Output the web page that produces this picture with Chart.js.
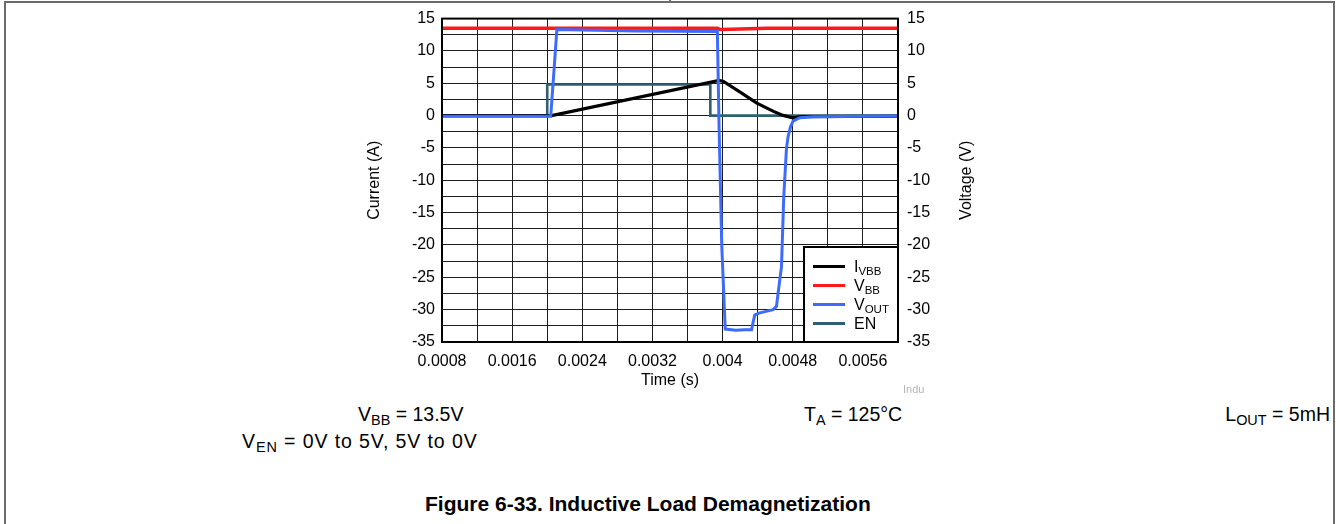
<!DOCTYPE html>
<html>
<head>
<meta charset="utf-8">
<script src="https://cdn.jsdelivr.net/npm/chart.js@4.4.1/dist/chart.umd.min.js"></script>
<style>
  html, body { margin: 0; padding: 0; background: #fff; }
  body { width: 1336px; height: 524px; position: relative; overflow: hidden;
         font-family: "Liberation Sans", Arial, Helvetica, sans-serif; color: #000; }
  .rule { position: absolute; background: #6b6b6b; }
  #wrap { position: absolute; left: 360px; top: 0; width: 620px; height: 400px; }
  .note { position: absolute; font-size: 19.5px; white-space: nowrap; line-height: 1; }
  .note sub { font-size: 0.74em; vertical-align: -0.3em; line-height: 0; }
  .stamp { position: absolute; font-size: 11px; color: #b4b4b4; white-space: nowrap; }
  .caption { position: absolute; font-size: 21px; font-weight: bold; white-space: nowrap; line-height: 1; }
</style>
</head>
<body>
<div class="rule" style="left:4px; top:1px; width:1331px; height:2px;"></div>
<div class="rule" style="left:4px; top:1px; width:2px; height:523px;"></div>
<div class="rule" style="left:1333px; top:1px; width:2px; height:523px;"></div>
<div class="rule" style="left:669px; top:0; width:2px; height:3px;"></div>

<div id="wrap"><canvas id="c"></canvas></div>

<div class="stamp" style="left:903px; top:383px;">Indu</div>
<div class="note" style="left:358px; top:405px;">V<sub>BB</sub> = 13.5V</div>
<div class="note" style="left:804px; top:405px;">T<sub>A</sub> = 125°C</div>
<div class="note" style="right:6px; top:405px;">L<sub>OUT</sub> = 5mH</div>
<div class="note" style="left:242px; top:432px; letter-spacing:0.9px;">V<sub>EN</sub> = 0V to 5V, 5V to 0V</div>
<div class="caption" style="left:425px; top:493px;">Figure 6-33. Inductive Load Demagnetization</div>

<script>
// Time base of the capture, seconds
const xTickLabels = ['0.0008', '0.0016', '0.0024', '0.0032', '0.004', '0.0048', '0.0056'];
const yTickLabels = ['15', '10', '5', '0', '-5', '-10', '-15', '-20', '-25', '-30', '-35'];

// Supply current I_VBB (A)
const ivbbTime = [0.0008, 0.00205, 0.00396, 0.00401, 0.00420, 0.00439, 0.00458, 0.00469, 0.00480, 0.00490, 0.0060];
const ivbbAmps = [0,      0,       5.43,    5.28,    3.63,    1.93,    0.65,    0.03,    -0.33,   -0.15,   -0.1];

// Supply voltage V_BB (V)
const vbbTime = [0.0008, 0.00394, 0.00397, 0.00420, 0.00450, 0.0060];
const vbbVolts = [13.5,  13.5,    13.3,    13.4,    13.5,    13.5];

// Output voltage V_OUT (V)
const voutTime = [0.0008, 0.00204, 0.00211, 0.0030, 0.00394, 0.00396, 0.00399, 0.00403, 0.00415, 0.00425,
                  0.00433, 0.004348, 0.004367, 0.004424, 0.004576, 0.004614, 0.004632, 0.004671, 0.004697,
                  0.004728, 0.004746, 0.004774, 0.004803, 0.00488, 0.005031, 0.0060];
const voutVolts = [-0.1,  -0.1,    13.3,    13.1,   13.0,    -2.0,    -20.0,   -33.0,   -33.2,   -33.1,
                   -33.1,  -31.9,    -30.8,    -30.5,    -30.0,    -29.5,    -27.5,    -23.4,    -12.6,
                   -5.1,     -3.3,     -1.77,    -0.85,    -0.33,   -0.17,    -0.07];

// Enable input EN (V)
const enTime = [0.0008, 0.0020, 0.0020, 0.00386, 0.00386, 0.0060];
const enVolts = [0,     0,      4.8,    4.8,     0,       0];

const seriesMain = ['I', 'V', 'V', 'EN'];
const seriesSub = ['VBB', 'BB', 'OUT', ''];
const seriesColors = ['#000000', '#ff1a1a', '#3d6bff', '#2f5f70'];

const pts = (ts, vs) => ts.map((t, i) => ({ x: t, y: vs[i] }));

const FONT = '"Liberation Sans", Arial, Helvetica, sans-serif';
const GRID = '#1e1e1e';

// Legend box, plot frame and the right-hand axis title
const legendBox = {
  id: 'legendBox',
  afterDatasetsDraw(chart) {
    const { ctx, chartArea: a } = chart;
    const w = 94, h = 95;
    const left = a.right - w, top = a.bottom - h;
    ctx.save();
    ctx.fillStyle = '#fff';
    ctx.fillRect(left, top, w, h);
    ctx.strokeStyle = '#000';
    ctx.lineWidth = 2;
    ctx.strokeRect(left, top, w, h);
    seriesMain.forEach((m, i) => {
      const y = top + 19.5 + i * 19;
      ctx.strokeStyle = seriesColors[i];
      ctx.lineWidth = 3;
      ctx.beginPath();
      ctx.moveTo(left + 9, y);
      ctx.lineTo(left + 41, y);
      ctx.stroke();
      ctx.fillStyle = '#000';
      ctx.textBaseline = 'middle';
      ctx.textAlign = 'left';
      ctx.font = '16px ' + FONT;
      ctx.fillText(m, left + 50, y + 1);
      const mw = ctx.measureText(m).width;
      if (seriesSub[i]) {
        ctx.font = '11.5px ' + FONT;
        ctx.fillText(seriesSub[i], left + 50 + mw, y + 5);
      }
    });
    ctx.restore();
  },
  afterDraw(chart) {
    const { ctx, chartArea: a } = chart;
    ctx.save();
    ctx.strokeStyle = '#000';
    ctx.lineWidth = 2;
    ctx.strokeRect(a.left, a.top, a.right - a.left, a.bottom - a.top);
    // right axis title reads bottom-to-top, like the left one
    ctx.translate(chart.scales.y2.right - 13, (a.top + a.bottom) / 2);
    ctx.rotate(-Math.PI / 2);
    ctx.fillStyle = '#000';
    ctx.font = '16px ' + FONT;
    ctx.textAlign = 'center';
    ctx.textBaseline = 'middle';
    ctx.fillText('Voltage (V)', 0, 0);
    ctx.restore();
  }
};

const yTickCb = v => {
  const s = String(v);
  return yTickLabels.includes(s) ? s : '';
};

new Chart(document.getElementById('c'), {
  type: 'scatter',
  data: {
    datasets: [
      { label: 'IVBB', data: pts(ivbbTime, ivbbAmps), yAxisID: 'y', borderColor: seriesColors[0], borderWidth: 3.2, order: 2 },
      { label: 'VBB', data: pts(vbbTime, vbbVolts), yAxisID: 'y2', borderColor: seriesColors[1], borderWidth: 3.5, order: 3 },
      { label: 'VOUT', data: pts(voutTime, voutVolts), yAxisID: 'y2', borderColor: seriesColors[2], borderWidth: 3, order: 1 },
      { label: 'EN', data: pts(enTime, enVolts), yAxisID: 'y2', borderColor: seriesColors[3], borderWidth: 2.6, order: 4 }
    ].map(d => Object.assign(d, { showLine: true, pointRadius: 0, pointHoverRadius: 0, tension: 0, fill: false }))
  },
  options: {
    responsive: true,
    maintainAspectRatio: false,
    animation: false,
    events: [],
    layout: { padding: { top: 18, left: 0, right: 0, bottom: 0 } },
    plugins: { legend: { display: false }, tooltip: { enabled: false } },
    scales: {
      x: {
        type: 'linear', min: 0.0008, max: 0.006,
        afterFit: s => { s.height = 58; },
        grid: { color: GRID, lineWidth: 1, drawTicks: false },
        border: { display: false },
        ticks: {
          stepSize: 0.0004, autoSkip: false, maxRotation: 0, padding: 10,
          color: '#000', font: { family: FONT, size: 16 },
          callback: v => {
            const s = String(parseFloat(Number(v).toFixed(5)));
            return xTickLabels.includes(s) ? s : '';
          }
        },
        title: { display: true, text: 'Time (s)', color: '#000', font: { family: FONT, size: 16 }, padding: { top: 0, bottom: 10 } }
      },
      y: {
        position: 'left', min: -35, max: 15,
        afterFit: s => { s.width = 82; },
        grid: { color: GRID, lineWidth: 1, drawTicks: false },
        border: { display: false },
        ticks: { stepSize: 2.5, autoSkip: false, padding: 7, color: '#000', font: { family: FONT, size: 16 }, callback: yTickCb },
        title: { display: true, text: 'Current (A)', color: '#000', font: { family: FONT, size: 16 }, padding: { top: 5, bottom: 0 } }
      },
      y2: {
        position: 'right', min: -35, max: 15,
        afterFit: s => { s.width = 82; },
        grid: { display: false, drawTicks: false },
        border: { display: false },
        ticks: { stepSize: 2.5, autoSkip: false, padding: 9, color: '#000', font: { family: FONT, size: 16 }, callback: yTickCb },
        title: { display: false }
      }
    }
  },
  plugins: [legendBox]
});
</script>
</body>
</html>
